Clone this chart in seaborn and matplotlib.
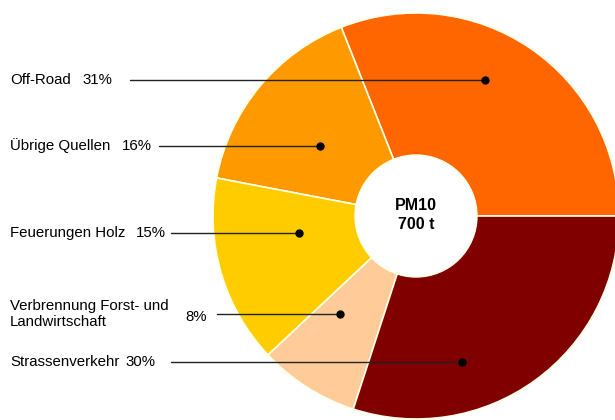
import matplotlib
matplotlib.use("Agg")
import matplotlib.pyplot as plt
import seaborn as sns

# data
categories = ["Off-Road", "Übrige Quellen", "Feuerungen Holz",
              "Verbrennung Forst- und\nLandwirtschaft", "Strassenverkehr"]
shares = [31, 16, 15, 8, 30]
colors = ["#FF6600", "#FF9900", "#FFCC00", "#FFCC99", "#800000"]
center_label = "PM10\n700 t"

sns.set_style("white")
plt.rcParams["font.family"] = ["Liberation Sans", "DejaVu Sans"]

fig = plt.figure(figsize=(6.15, 4.2), dpi=100)
ax = fig.add_axes([0, 0, 1, 1])

H = 420
cx, cy, r = 416, H - 216, 203
ax.pie(shares, colors=colors, startangle=0, counterclock=True,
       center=(cx, cy), radius=r, frame=True,
       wedgeprops=dict(edgecolor="#FFFFE6", linewidth=1.2))
ax.set_xlim(0, 615)
ax.set_ylim(0, 420)
ax.set_aspect("equal")
ax.axis("off")

# white hole in the middle
ax.add_patch(plt.Circle((cx, cy), 61, facecolor="white",
                        edgecolor="#FFFFE6", linewidth=1, zorder=5))
ax.text(cx, cy + 1, center_label, ha="center", va="center", color="black",
        fontsize=11.5, fontweight="bold", linespacing=1.3, zorder=6)

# label layout: (text y, pct x, line start x, dot x, dot y)
layout = [
    (80, 82, 130, 485, 80),
    (146, 122, 159, 320, 146),
    (233, 136, 171, 299, 233),
    (314, 185, 217, 340, 314),
    (362, 125, 171, 462, 362),
]
for name, pct, (ty, px, lx, dx, dy) in zip(categories, shares, layout):
    ax.text(10, H - ty, name, ha="left", va="center", fontsize=10.8,
            linespacing=1.15, color="black")
    ax.text(px, H - ty + (-3 if "\n" in name else 0), f"{pct}%",
            ha="left", va="center", fontsize=10.8, color="black")
    ax.plot([lx, dx], [H - dy, H - dy], color="#222222", linewidth=1, zorder=7)
    ax.plot(dx, H - dy, "o", color="black", markersize=5, zorder=8)

fig.savefig("out.png", dpi=100)
